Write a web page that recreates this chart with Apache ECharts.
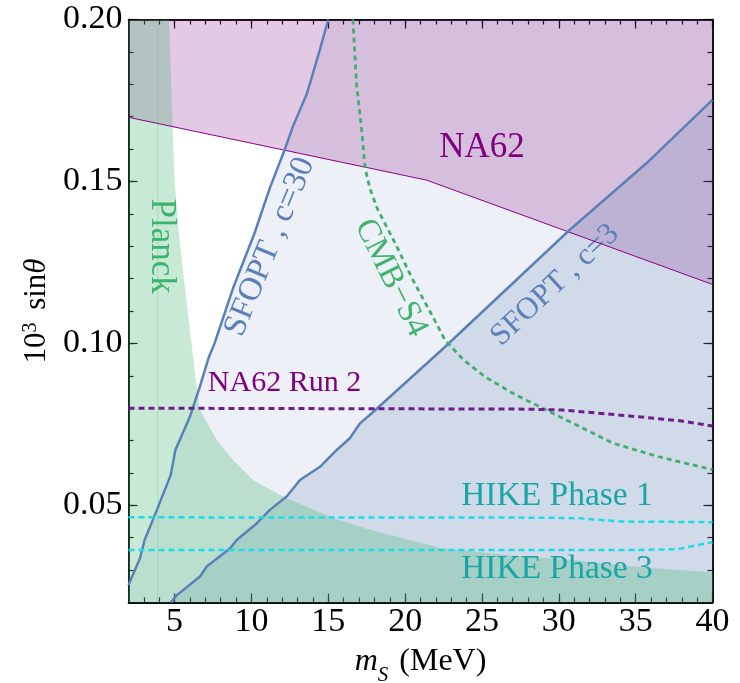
<!DOCTYPE html>
<html><head><meta charset="utf-8">
<script src="https://cdn.jsdelivr.net/npm/echarts@6/dist/echarts.min.js"></script>
<style>html,body{margin:0;padding:0;background:#fff}#c{width:740px;height:683px}</style>
</head><body><div id="c"></div>
<script>
// ---- axis ranges and tick labels ----
const xMin = 2, xMax = 40, yMin = 0.02, yMax = 0.20;
const xMajorTicks = [5, 10, 15, 20, 25, 30, 35, 40];
const xMinorTicks = [3,4,5,6,7,8,9,10,11,12,13,14,15,16,17,18,19,20,21,22,23,24,25,26,27,28,29,30,31,32,33,34,35,36,37,38,39];
const yMajorTicks = [0.05, 0.10, 0.15, 0.20];
const yMinorTicks = [0.03,0.04,0.05,0.06,0.07,0.08,0.09,0.10,0.11,0.12,0.13,0.14,0.15,0.16,0.17,0.18,0.19];

// ---- Planck excluded region boundary ----
const planckX = [4.65, 4.85, 5.0, 5.3, 5.6, 6.1, 6.6, 7.75, 8.8, 10.1, 12.07, 15.3, 17.7, 22.3, 26.6, 30.9, 35, 40];
const planckY = [0.200, 0.170, 0.150, 0.133, 0.120, 0.100, 0.080, 0.070, 0.064, 0.0578, 0.0527, 0.046, 0.0425, 0.0368, 0.0347, 0.0331, 0.0310, 0.0293];
const planckEdgeX = 3.9;

// ---- NA62 excluded region boundary ----
const na62X = [2, 21.4, 40];
const na62Y = [0.1698, 0.1504, 0.1182];

// ---- SFOPT c=30 ----
const c30X = [2, 2.75, 3.05, 3.85, 4.75, 5.05, 6.0, 6.65, 7.2, 7.6, 8.8, 10.2, 11.2, 12.1, 12.7, 13.6, 14.45, 15.0];
const c30Y = [0.0254, 0.0337, 0.0393, 0.0486, 0.0594, 0.0671, 0.0774, 0.0867, 0.0954, 0.100, 0.117, 0.134, 0.148, 0.159, 0.167, 0.177, 0.1906, 0.200];

// ---- SFOPT c=3 ----
const c3X = [4.75, 5.13, 6.65, 7.09, 8.6, 9.04, 10.34, 11.2, 12.29, 13.16, 14.46, 15.55, 16.4, 17.06, 17.7, 22.5, 30.7, 35.7, 40];
const c3Y = [0.020, 0.0222, 0.0280, 0.0311, 0.0367, 0.0393, 0.0444, 0.0486, 0.0527, 0.0578, 0.0619, 0.0671, 0.0707, 0.0753, 0.0779, 0.0985, 0.135, 0.1556, 0.1752];

// ---- CMB-S4 projection ----
const cmbX = [16.6, 16.84, 17.17, 17.4, 17.7, 18.15, 19.45, 20.5, 21.6, 22.6, 23.8, 25.2, 27.0, 29.2, 31.5, 33.5, 36.5, 40];
const cmbY = [0.200, 0.180, 0.166, 0.154, 0.148, 0.142, 0.130, 0.1196, 0.110, 0.101, 0.0949, 0.0897, 0.0846, 0.0794, 0.074, 0.0692, 0.065, 0.061];

// ---- NA62 Run 2 projection ----
const run2X = [2, 28.1, 30.3, 34.6, 37.9, 40];
const run2Y = [0.080, 0.0797, 0.0794, 0.0776, 0.0761, 0.0745];

// ---- HIKE projections ----
const hike1X = [2, 29, 31.4, 34, 40];
const hike1Y = [0.0463, 0.0462, 0.0460, 0.0450, 0.0448];
const hike3X = [2, 35, 37.8, 39.3, 40];
const hike3Y = [0.0362, 0.0362, 0.0365, 0.0380, 0.0386];

// ---- text annotations (anchor in data coordinates) ----
const annotations = [
  {text: 'NA62', at: [25.0, 0.1603], rot: 0, color: '#800080', size: 35},
  {text: 'NA62 Run 2', at: [12.15, 0.0876], rot: 0, color: '#800080', size: 30},
  {text: 'HIKE Phase 1', at: [29.88, 0.0529], rot: 0, color: '#19a6a6', size: 33.5},
  {text: 'HIKE Phase 3', at: [29.88, 0.0304], rot: 0, color: '#19a6a6', size: 33.5},
  {text: 'Planck', at: [4.11, 0.130], rot: -90, color: '#3db46e', size: 35},
  {text: 'SFOPT , c=30', at: [11.2, 0.1298], rot: 67.6, color: '#5b80b8', size: 33},
  {text: 'CMB\u2212S4', at: [19.08, 0.1202], rot: -63.6, color: '#40b46e', size: 33},
  {text: 'SFOPT , c=3', at: [29.75, 0.1180], rot: 43, color: '#5b80b8', size: 31}
];

const FONT = 'Liberation Serif';
const zip = (xs, ys) => xs.map((x, i) => [x, ys[i]]);

// polygons built from the arrays and the axis limits
const planckPoly = [[xMin, yMax]].concat(zip(planckX, planckY), [[xMax, yMin], [xMin, yMin]]);
const na62Poly = zip(na62X, na62Y).concat([[xMax, yMax], [xMin, yMax]]);
const c30Poly = zip(c30X, c30Y).concat([[xMax, yMax], [xMax, yMin], [xMin, yMin]]);
const c3Poly = zip(c3X, c3Y).concat([[xMax, yMin]]);

function polySeries(poly, fill) {
  return {
    type: 'custom', xAxisIndex: 0, yAxisIndex: 0, silent: true, clip: true,
    data: [[xMin, yMin]],
    renderItem: function (params, api) {
      return {type: 'polygon', shape: {points: poly.map(p => api.coord(p))}, style: {fill: fill}};
    }
  };
}
function lineSeries(xs, ys, color, width, type) {
  return {
    type: 'line', xAxisIndex: 0, yAxisIndex: 0, data: zip(xs, ys), showSymbol: false, symbol: 'none',
    silent: true, clip: true, animation: false,
    lineStyle: {color: color, width: width, type: type || 'solid', cap: 'butt'}
  };
}

function xAx(pos, ticks, len, labels) {
  return {
    type: 'value', min: xMin, max: xMax, position: pos, gridIndex: 0,
    axisLine: {show: true, onZero: false, lineStyle: {color: '#000', width: 1.5}},
    axisTick: {show: true, inside: true, length: len, customValues: ticks, lineStyle: {color: '#000', width: 1.2}},
    axisLabel: labels ? {show: true, customValues: xMajorTicks, fontFamily: FONT, fontSize: 34, color: '#000', margin: 3} : {show: false},
    splitLine: {show: false}
  };
}
function yAx(pos, ticks, len, labels) {
  return {
    type: 'value', min: yMin, max: yMax, position: pos, gridIndex: 0,
    axisLine: {show: true, onZero: false, lineStyle: {color: '#000', width: 1.5}},
    axisTick: {show: true, inside: true, length: len, customValues: ticks, lineStyle: {color: '#000', width: 1.2}},
    axisLabel: labels ? {show: true, customValues: yMajorTicks, fontFamily: FONT, fontSize: 34, color: '#000', margin: 6,
      formatter: v => v.toFixed(2)} : {show: false},
    splitLine: {show: false}
  };
}

const xAxes = [
  Object.assign(xAx('bottom', xMajorTicks, 9, true), {
    name: '{i|m}{s|S} (MeV)', nameLocation: 'middle', nameGap: 43,
    nameTextStyle: {fontFamily: FONT, fontSize: 32, color: '#000',
      rich: {i: {fontFamily: FONT, fontSize: 32, fontStyle: 'italic', color: '#000'},
             s: {fontFamily: FONT, fontSize: 21, fontStyle: 'italic', color: '#000', verticalAlign: 'bottom', padding: [0, 3, -8, 0]}}}
  }),
  xAx('bottom', xMinorTicks, 5, false),
  xAx('top', xMajorTicks, 9, false),
  xAx('top', xMinorTicks, 5, false)
];
const yAxes = [
  Object.assign(yAx('left', yMajorTicks, 9, true), {
    name: '10{sup|3} sin{it|\u03b8}', nameLocation: 'middle', nameGap: 76, nameRotate: 90,
    nameTextStyle: {fontFamily: FONT, fontSize: 31, color: '#000',
      rich: {sup: {fontFamily: FONT, fontSize: 20, color: '#000', verticalAlign: 'top', padding: [0, 5, 0, 0]},
             it: {fontFamily: FONT, fontSize: 31, fontStyle: 'italic', color: '#000'}}}
  }),
  yAx('left', yMinorTicks, 5, false),
  yAx('right', yMajorTicks, 9, false),
  yAx('right', yMinorTicks, 5, false)
];

const series = [
  polySeries(c30Poly, 'rgba(94,129,181,0.11)'),
  polySeries(na62Poly, 'rgba(128,0,128,0.21)'),
  polySeries(c3Poly, 'rgba(94,129,181,0.20)'),
  polySeries(planckPoly, 'rgba(74,185,120,0.31)'),
  lineSeries([planckEdgeX, planckEdgeX], [yMin, yMax], 'rgba(74,185,120,0.25)', 1),
  lineSeries(na62X, na62Y, '#8b008b', 1),
  lineSeries(c30X, c30Y, '#5b80b8', 2.5),
  lineSeries(c3X, c3Y, '#5b80b8', 2.5),
  lineSeries(cmbX, cmbY, '#44ad70', 2.8, [5, 4]),
  lineSeries(run2X, run2Y, '#6e1d8c', 3, [6, 4]),
  lineSeries(hike1X, hike1Y, '#1cdce8', 2.5, [6, 4]),
  lineSeries(hike3X, hike3Y, '#1cdce8', 2.5, [6, 4]),
  {
    type: 'custom', xAxisIndex: 0, yAxisIndex: 0, silent: true, clip: false,
    data: annotations.map(a => a.at),
    renderItem: function (params, api) {
      const a = annotations[params.dataIndex];
      const p = api.coord(a.at);
      return {
        type: 'text', x: p[0], y: p[1], rotation: a.rot * Math.PI / 180,
        style: {text: a.text, fill: a.color, fontFamily: FONT, fontSize: a.size, align: 'center', verticalAlign: 'middle'}
      };
    }
  }
];

const chart = echarts.init(document.getElementById('c'), null, {renderer: 'canvas'});
chart.setOption({
  animation: false,
  backgroundColor: '#fff',
  grid: {left: 128.5, top: 19.5, width: 584, height: 583, containLabel: false, outerBoundsMode: 'none'},
  xAxis: xAxes,
  yAxis: yAxes,
  series: series
});
</script></body></html>
